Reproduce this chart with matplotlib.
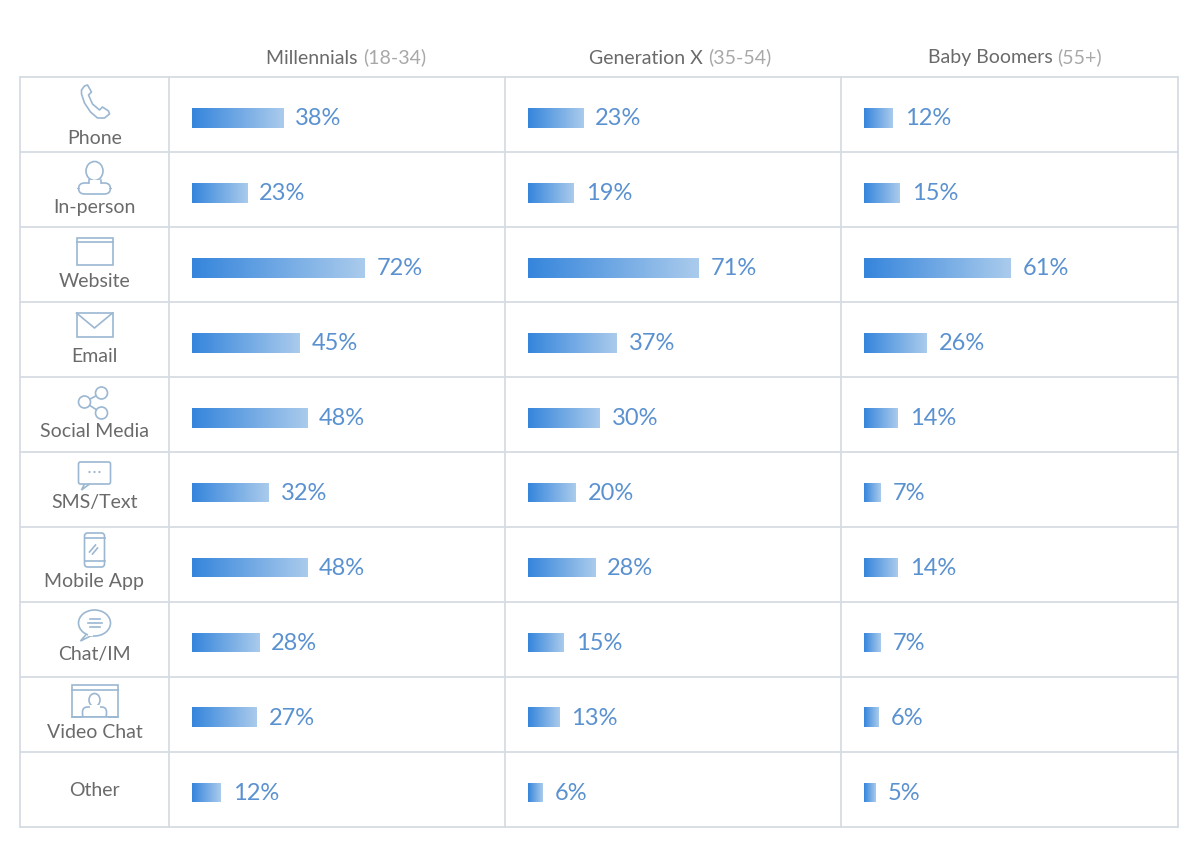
import matplotlib.pyplot as plt
import numpy as np
from matplotlib.patches import Rectangle, FancyBboxPatch, Circle, Ellipse, Polygon
from matplotlib.colors import LinearSegmentedColormap

plt.rcParams['font.family'] = ['Lato', 'DejaVu Sans']

channels = ['Phone', 'In-person', 'Website', 'Email', 'Social Media',
            'SMS/Text', 'Mobile App', 'Chat/IM', 'Video Chat', 'Other']
groups = ['Millennials', 'Generation X', 'Baby Boomers']
group_ages = ['(18-34)', '(35-54)', '(55+)']
millennials = [38, 23, 72, 45, 48, 32, 48, 28, 27, 12]
gen_x = [23, 19, 71, 37, 30, 20, 28, 15, 13, 6]
boomers = [12, 15, 61, 26, 14, 7, 14, 7, 6, 5]
series = [millennials, gen_x, boomers]

W, H = 1200, 845
col_edges = [20, 169, 505, 841, 1178]
top, row_h = 78, 75
n = len(channels)
bottom = top + row_h * n

line_c = '#d6dce2'
icon_c = '#9bb7d1'
text_c = '#6a6a6a'
pct_c = '#5a91d0'
grad = LinearSegmentedColormap.from_list('g', ['#3585dc', '#aacbec'])

fig = plt.figure(figsize=(W / 100, H / 100), dpi=100)
ax = fig.add_axes([0, 0, 1, 1])
ax.set_xlim(0, W)
ax.set_ylim(H, 0)
ax.axis('off')
renderer = fig.canvas.get_renderer()

# grid
for x in col_edges:
    ax.plot([x, x], [top, bottom], color=line_c, lw=1.3)
for i in range(n + 1):
    y = top + i * row_h
    ax.plot([col_edges[0], col_edges[-1]], [y, y], color=line_c, lw=1.3)

# column headers: dark group name + light age range, centred together
head_cx = [346, 680, 1015]
for k in range(3):
    t = ax.text(0, 58, groups[k] + ' ', ha='left', va='center',
                fontsize=14, color=text_c)
    a = ax.annotate(group_ages[k], xy=(1, 0), xycoords=t, va='bottom',
                    fontsize=14, color='#a8a8a8')
    w1 = t.get_window_extent(renderer).width
    w2 = a.get_window_extent(renderer).width
    t.set_x(head_cx[k] - (w1 + w2) / 2)

# icons
lw = 1.2
kw = dict(fill=False, ec=icon_c, lw=lw)


def icon_phone(cx, cy):
    xs = [-10, -7, -3, -6, -2, 5, 8, 14, 15, 10, 3, -4, -10, -13, -13, -10]
    ys = [-15, -16, -9, -6, 3, 9, 6, 10, 13, 17, 17, 11, 2, -7, -11, -15]
    ax.add_patch(Polygon(list(zip(np.array(xs) + cx, np.array(ys) + cy)),
                         closed=True, joinstyle='round', **kw))


def icon_person(cx, cy):
    ax.add_patch(Ellipse((cx, cy - 7), 17, 19, **kw))
    ax.add_patch(FancyBboxPatch((cx - 16, cy + 5), 32, 11,
                                boxstyle='round,pad=0,rounding_size=6', **kw))
    ax.add_patch(Rectangle((cx - 6, cy + 2), 12, 4, fc='white', ec='none'))
    ax.plot([cx - 6, cx - 6], [cy + 2, cy + 5], color=icon_c, lw=lw)
    ax.plot([cx + 6, cx + 6], [cy + 2, cy + 5], color=icon_c, lw=lw)


def icon_website(cx, cy):
    ax.add_patch(Rectangle((cx - 18, cy - 13), 36, 27, **kw))
    ax.plot([cx - 18, cx + 18], [cy - 9, cy - 9], color=icon_c, lw=lw)


def icon_email(cx, cy):
    ax.add_patch(Rectangle((cx - 18, cy - 12), 36, 24, **kw))
    ax.plot([cx - 18, cx, cx + 18], [cy - 12, cy + 3, cy - 12], color=icon_c, lw=lw)


def icon_social(cx, cy):
    pts = [(cx - 10, cy), (cx + 7, cy - 9), (cx + 7, cy + 11)]
    ax.plot([pts[1][0], pts[0][0], pts[2][0]], [pts[1][1], pts[0][1], pts[2][1]],
            color=icon_c, lw=lw)
    for p in pts:
        ax.add_patch(Circle(p, 6, fc='white', ec=icon_c, lw=lw, zorder=3))


def icon_sms(cx, cy):
    ax.add_patch(FancyBboxPatch((cx - 16, cy - 12), 32, 22,
                                boxstyle='round,pad=0,rounding_size=2', **kw))
    ax.add_patch(Polygon([(cx - 10, cy + 10), (cx - 13, cy + 16), (cx - 5, cy + 10)],
                         closed=False, fill=False, ec=icon_c, lw=lw))
    for d in (-5, 0, 5):
        ax.add_patch(Circle((cx + d, cy - 2), 1.1, fc=icon_c, ec='none'))


def icon_mobile(cx, cy):
    ax.add_patch(FancyBboxPatch((cx - 10, cy - 17), 20, 34,
                                boxstyle='round,pad=0,rounding_size=3', **kw))
    ax.plot([cx - 10, cx + 10], [cy - 12, cy - 12], color=icon_c, lw=lw)
    ax.plot([cx - 10, cx + 10], [cy + 11, cy + 11], color=icon_c, lw=lw)
    ax.plot([cx - 5, cx + 1], [cy + 2, cy - 5], color=icon_c, lw=lw)
    ax.plot([cx - 2, cx + 3], [cy + 4, cy - 2], color=icon_c, lw=lw)


def icon_chat(cx, cy):
    ax.add_patch(Ellipse((cx, cy - 2), 32, 26, **kw))
    ax.add_patch(Polygon([(cx - 8, cy + 9), (cx - 14, cy + 16), (cx - 2, cy + 10)],
                         closed=False, fill=False, ec=icon_c, lw=lw))
    ax.add_patch(Rectangle((cx - 7, cy + 8), 5, 3, fc='white', ec='none'))
    for dy, hw in ((-6, 5), (-2, 7), (2, 5)):
        ax.plot([cx - hw, cx + hw], [cy + dy, cy + dy], color=icon_c, lw=lw)


def icon_video(cx, cy):
    ax.add_patch(Rectangle((cx - 23, cy - 16), 46, 32, **kw))
    ax.plot([cx - 23, cx + 23], [cy - 11, cy - 11], color=icon_c, lw=lw)
    ax.add_patch(Ellipse((cx, cy - 1), 11, 13, **kw))
    ax.add_patch(FancyBboxPatch((cx - 12, cy + 6), 24, 12,
                                boxstyle='round,pad=0,rounding_size=5', **kw))
    ax.add_patch(Rectangle((cx - 13, cy + 16), 26, 4, fc='white', ec='none'))
    ax.add_patch(Rectangle((cx - 5, cy + 4), 10, 3, fc='white', ec='none'))
    ax.plot([cx - 23, cx + 23], [cy + 16, cy + 16], color=icon_c, lw=lw)


icons = [icon_phone, icon_person, icon_website, icon_email, icon_social,
         icon_sms, icon_mobile, icon_chat, icon_video, None]
icon_dy = [24, 26, 24, 23, 25, 22, 23, 23, 24, None]
label_dy = [60, 54, 54, 54, 54, 50, 54, 52, 55, 38]

lab_cx = (col_edges[0] + col_edges[1]) / 2
for i, name in enumerate(channels):
    y0 = top + i * row_h
    if icons[i] is not None:
        icons[i](lab_cx, y0 + icon_dy[i])
    ax.text(lab_cx, y0 + label_dy[i], name, ha='center', va='center',
            fontsize=14, color=text_c)

# bars: one axes per age group, x in percent
px_per_pct = 2.4
bar_off = 23
bar_h = 20 / row_h
gimg = np.linspace(0, 1, 256).reshape(1, -1)
for k, vals in enumerate(series):
    x0, x1 = col_edges[k + 1], col_edges[k + 2]
    bax = fig.add_axes([x0 / W, 1 - bottom / H, (x1 - x0) / W, (bottom - top) / H])
    bax.axis('off')
    bax.patch.set_alpha(0)
    ypos = np.arange(n) + 0.04
    bars = bax.barh(ypos, vals, height=bar_h, color='none', edgecolor='none')
    for b, v, yp in zip(bars, vals, ypos):
        im = bax.imshow(gimg, cmap=grad, aspect='auto', interpolation='bicubic',
                        extent=(0, v, yp + bar_h / 2, yp - bar_h / 2), zorder=2)
        im.set_clip_path(b)
        bax.text(v + 12 / px_per_pct, yp, f'{v}%', ha='left', va='center',
                 fontsize=17, color=pct_c)
    bax.set_xlim(-bar_off / px_per_pct, (x1 - x0 - bar_off) / px_per_pct)
    bax.set_ylim(n - 0.5, -0.5)

fig.savefig('out.png', dpi=100, facecolor='white')
